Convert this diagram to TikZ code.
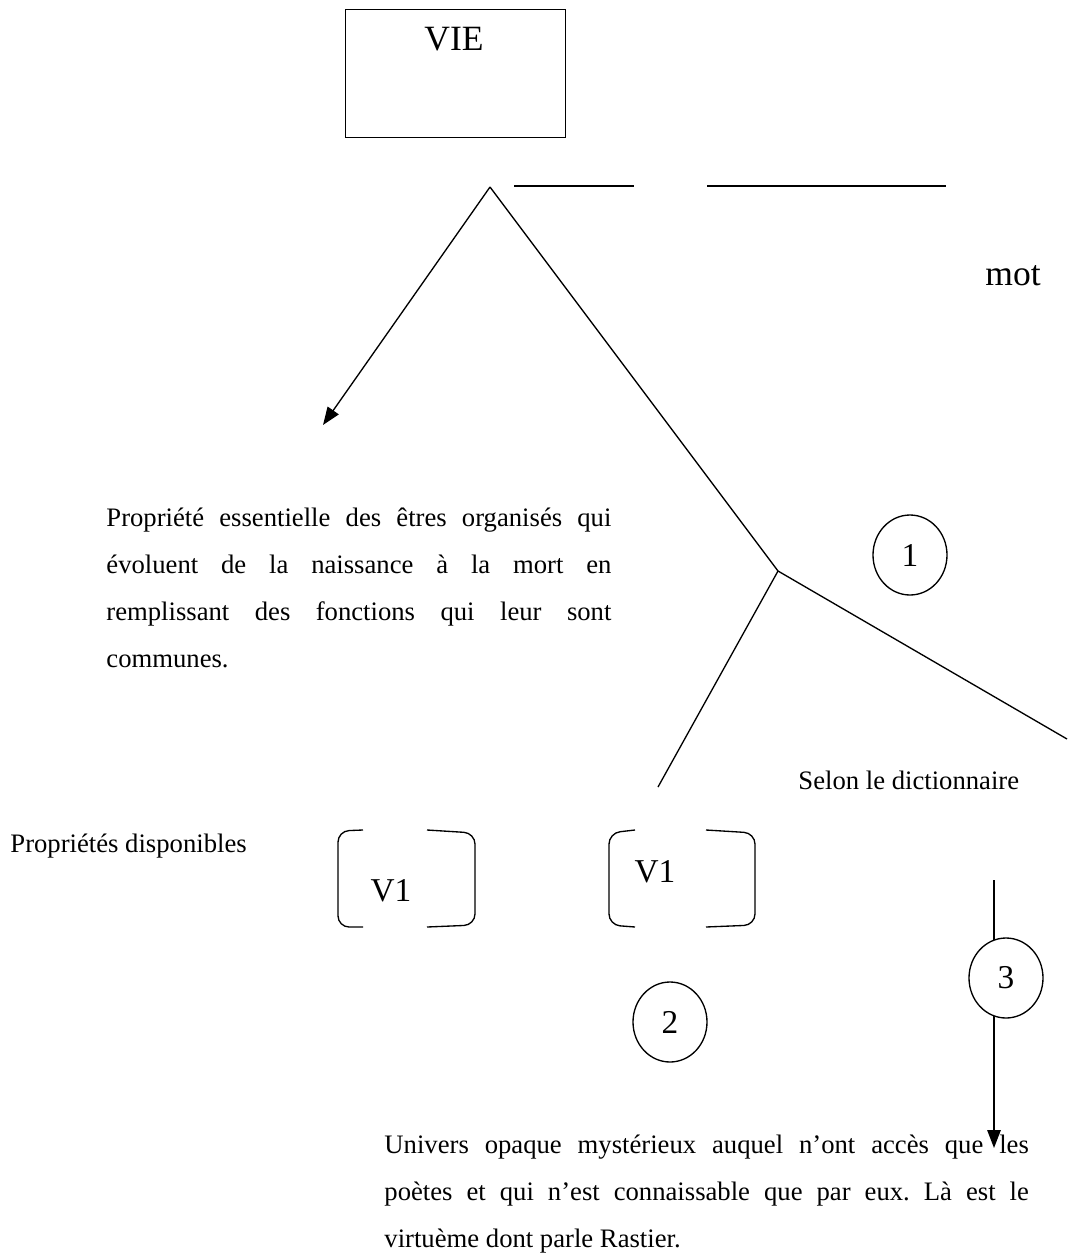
\documentclass[tikz,border=0pt]{standalone}
\usepackage{fontspec}
\setmainfont{Liberation Serif}
\usetikzlibrary{arrows.meta,shapes.geometric}
\frenchspacing
\begin{document}
\begin{tikzpicture}[x=0.45pt,y=-0.45pt,
  ln/.style={line width=0.6pt},
  arr/.style={ln,-{Triangle[length=8pt,width=6pt]}},
  num/.style={draw,ln,fill=white,ellipse,minimum width=33.3pt,minimum height=36pt,inner sep=0pt,font=\fontsize{15}{18}\selectfont},
  txt/.style={inner sep=0pt,font=\fontsize{12}{14}\selectfont},
  big/.style={inner sep=0pt,font=\fontsize{16}{19}\selectfont},
  mid/.style={inner sep=0pt,font=\fontsize{15}{18}\selectfont},
  brk/.style={ln,rounded corners=5pt}]
\path[use as bounding box] (0,0) rectangle (1069,1259);
% box
\node[draw,ln,anchor=north west,minimum width=99pt,minimum height=57.6pt,inner sep=0pt] (vie) at (345,9) {};
\node[big,anchor=base] (vielabel) at (454,50) {VIE};
% top lines
\coordinate (apex) at (490,187);
\coordinate (la) at (514,186);
\coordinate (lb) at (634,186);
\coordinate (lc) at (707,186);
\coordinate (ld) at (946,186);
\draw[ln] (la) -- (lb);
\draw[ln] (lc) -- (ld);
\node[big,anchor=base west] (mot) at (985,285) {mot};
% tree
\coordinate (tipA) at (323,425);
\coordinate (br) at (778,571);
\coordinate (endL) at (658,787);
\coordinate (endR) at (1067,739);
\draw[arr] (apex) -- (tipA);
\draw[ln] (apex) -- (br);
\draw[ln] (br) -- (endL);
\draw[ln] (br) -- (endR);
% vertical arrow (drawn before circle 3, which covers it)
\coordinate (vtop) at (994,880);
\coordinate (vtip) at (994,1148);
\draw[arr] (vtop) -- (vtip);
% circles
\node[num] (c1) at (910,555) {1};
\node[num] (c2) at (670,1022) {2};
\node[num] (c3) at (1006,978) {3};
% paragraph 1
\node[txt,anchor=base west] (pa) at (106,526) {\makebox[227.25pt][s]{Propriété essentielle des êtres organisés qui}};
\node[txt,anchor=base west] (pb) at (106,573) {\makebox[227.25pt][s]{évoluent de la naissance à la mort en}};
\node[txt,anchor=base west] (pc) at (106,620) {\makebox[227.25pt][s]{remplissant des fonctions qui leur sont}};
\node[txt,anchor=base west] (pd) at (106,667) {communes.};
% labels
\node[txt,anchor=base west] (selon) at (798,789) {Selon le dictionnaire};
\node[txt,anchor=base west] (propdisp) at (10,852) {Propriétés disponibles};
% brackets 1
\draw[brk] (363,830) -- (338,831) -- (338,927) -- (363,927);
\draw[brk] (427,830) -- (475,833) -- (475,925) -- (427,927);
\node[mid,anchor=base] (v1a) at (391,901) {V1};
% brackets 2
\draw[brk] (635,830) -- (609,833) -- (609,925) -- (635,927);
\draw[brk] (706,830) -- (755,833) -- (755,925) -- (706,927);
\node[mid,anchor=base] (v1b) at (655,882) {V1};
% bottom paragraph
\node[txt,anchor=base west] (qa) at (384,1153) {\makebox[290pt][s]{Univers opaque mystérieux auquel n’ont accès que les}};
\node[txt,anchor=base west] (qb) at (384,1200) {\makebox[290pt][s]{poètes et qui n’est connaissable que par eux. Là est le}};
\node[txt,anchor=base west] (qc) at (384,1247) {virtuème dont parle Rastier.};
\end{tikzpicture}
\end{document}
